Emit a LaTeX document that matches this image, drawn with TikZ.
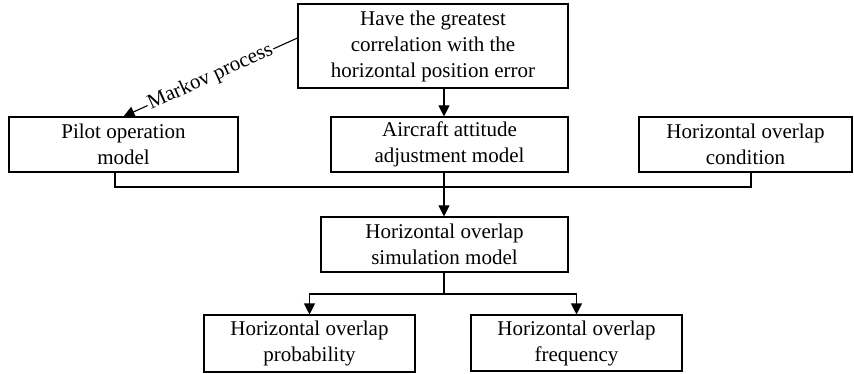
\documentclass[tikz,border=0pt]{standalone}
\usepackage{fontspec}
\setmainfont{Liberation Serif}
\usetikzlibrary{arrows.meta,calc}
\begin{document}
\begin{tikzpicture}[x=1pt,y=-1pt,
  box/.style={draw, line width=1.1pt, align=center, inner sep=0pt,
    font=\fontsize{21}{26}\selectfont, text=black},
  conn/.style={line width=1.1pt},
  arr/.style={line width=1.1pt, -{Triangle[width=11pt,length=11pt]}}]
\useasboundingbox (0,0) rectangle (854,374);
\node[box, minimum width=270pt, minimum height=84pt] (top) at (433,46)
  {Have the greatest\\correlation with the\\horizontal position error};
\node[box, minimum width=229pt, minimum height=55pt] (pilot) at (123.5,144.5)
  {Pilot operation\\model};
\node[box, minimum width=237pt, minimum height=55pt] (air) at (449.5,144.5)
  {Aircraft attitude\\adjustment model};
\node[box, minimum width=213pt, minimum height=55pt] (cond) at (745.5,144.5)
  {Horizontal overlap\\condition};
\node[box, minimum width=247pt, minimum height=55pt] (sim) at (444.5,244.5)
  {Horizontal overlap\\simulation model};
\node[box, minimum width=211pt, minimum height=57pt] (prob) at (309.5,343.5)
  {Horizontal overlap\\probability};
\node[box, minimum width=211pt, minimum height=56pt] (freq) at (576.5,343)
  {Horizontal overlap\\frequency};
\coordinate (cx) at (444,0);
\coordinate (pd) at (115,0);
\coordinate (cd) at (751,0);
\coordinate (bus) at (444,187);
\coordinate (bus2) at (444,294);
\draw[arr] (top.south -| cx) -- (air.north -| cx);
\draw[conn] (pilot.south -| pd) |- (bus) -| (cond.south -| cd);
\draw[conn] (air.south -| cx) -- (bus);
\draw[arr] (bus) -- (sim.north -| cx);
\draw[conn] (sim.south -| cx) -- (bus2);
\draw[arr] (bus2) -| (prob.north);
\draw[arr] (bus2) -| (freq.north);
\draw[arr] ($(top.west)+(0,-8)$) -- node[midway, sloped, fill=white, inner sep=1.5pt,
  font=\fontsize{21}{26}\selectfont] {Markov process} (pilot.north);
\end{tikzpicture}
\end{document}
